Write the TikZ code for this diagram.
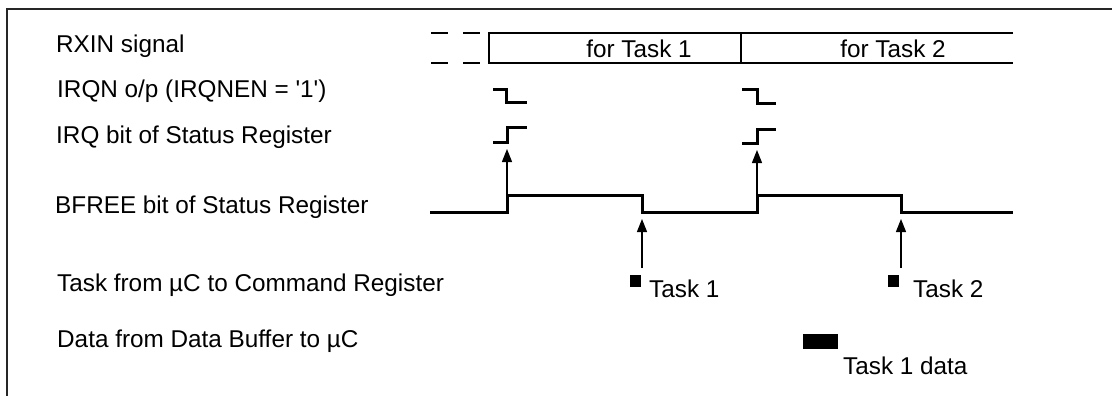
\documentclass[tikz,border=0pt]{standalone}
\usepackage{fontspec}
\setmainfont{Liberation Sans}
\usetikzlibrary{arrows.meta}
\begin{document}
\begin{tikzpicture}[x=1pt,y=-1pt,
  lbl/.style={anchor=base west,inner sep=0pt,font=\fontsize{24.3}{27}\selectfont},
  sig/.style={line width=3pt,line join=miter},
  bus/.style={line width=2.6pt},
  busdash/.style={line width=2.8pt},
  trig/.style={line width=1.3pt,-{Triangle[length=13pt,width=10pt]}},
  blk/.style={fill=black,draw=none},
  frame/.style={line width=2.2pt,draw=black!85}]
\useasboundingbox (0,0) rectangle (1112,396);
% frame
\draw[frame] (7,400) -- (7,9) -- (1115,9);
% labels
\node[lbl] (lrx) at (56,53) {RXIN signal};
\node[lbl] (lirqn) at (57,97) {IRQN o/p (IRQNEN = \textquotesingle 1\textquotesingle)};
\node[lbl] (lirq) at (56,143) {IRQ bit of Status Register};
\node[lbl] (lbf) at (55,213) {BFREE bit of Status Register};
\node[lbl] (ltask) at (57,291) {Task from µC to Command Register};
\node[lbl] (ldata) at (57,347) {Data from Data Buffer to µC};
% RXIN bus
\draw[busdash] (431,33) -- (448,33) (463,33) -- (480,33);
\draw[busdash] (431,63) -- (448,63) (463,63) -- (480,63);
\draw[bus] (1013,33) -- (489,33) -- (489,63) -- (1013,63);
\draw[bus] (741,33) -- (741,63);
\node[lbl,anchor=base] (ft1) at (639,58) {for Task 1};
\node[lbl,anchor=base] (ft2) at (893,58) {for Task 2};
% IRQN steps
\draw[sig] (493,90) -- (506,90) -- (506,103) -- (527,103);
\draw[sig] (742,90) -- (757,90) -- (757,104) -- (776,104);
% IRQ steps
\draw[sig] (493,142) -- (507,142) -- (507,127.5) -- (527,127.5);
\draw[sig] (742,143) -- (757,143) -- (757,129) -- (776,129);
% BFREE
\coordinate (r1) at (507,195);
\coordinate (f1) at (642,212);
\coordinate (r2) at (757,195);
\coordinate (f2) at (901,212);
\draw[sig] (430,212) -- (507,212) -- (r1) -- (642,195) -- (f1) -- (757,212) -- (r2) -- (901,195) -- (f2) -- (1013,212);
% trigger arrows
\coordinate (i1) at (507,149);
\coordinate (i2) at (757,150);
\draw[trig] (r1) -- (i1);
\draw[trig] (r2) -- (i2);
\coordinate (t1a) at (642,268);
\coordinate (t1b) at (642,219);
\coordinate (t2a) at (901,268);
\coordinate (t2b) at (901,219);
\draw[trig] (t1a) -- (t1b);
\draw[trig] (t2a) -- (t2b);
% task squares
\fill[blk] (630,275) rectangle (641,287);
\node[lbl] (tk1) at (649,297) {Task 1};
\fill[blk] (888,275) rectangle (899,287);
\node[lbl] (tk2) at (913,297) {Task 2};
% data block
\fill[blk] (803,334) rectangle (838,349);
\node[lbl] (td) at (843,374) {Task 1 data};
\end{tikzpicture}
\end{document}
